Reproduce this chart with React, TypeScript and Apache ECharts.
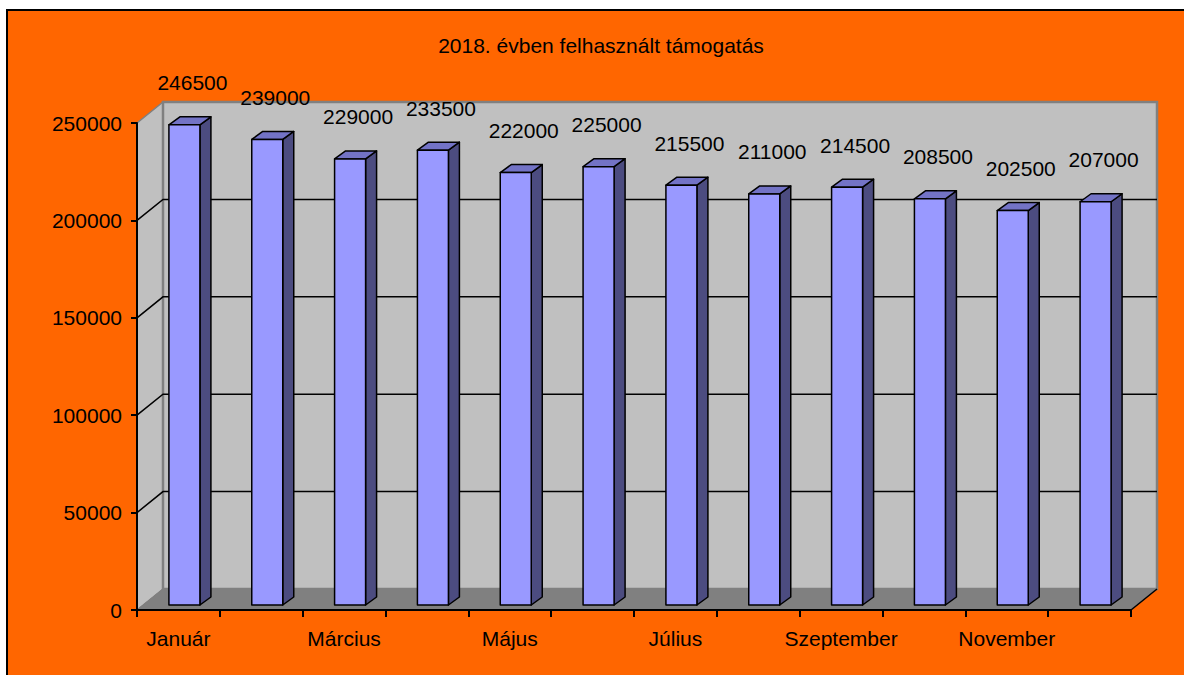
import React, { useEffect, useRef } from 'react';
import * as echarts from 'echarts';

const months = ['Január', 'Február', 'Március', 'Április', 'Május', 'Június', 'Július', 'Augusztus', 'Szeptember', 'Október', 'November', 'December'];
const amounts = [246500, 239000, 229000, 233500, 222000, 225000, 215500, 211000, 214500, 208500, 202500, 207000];
const yTicks = [0, 50000, 100000, 150000, 200000, 250000];
const chartTitle = '2018. évben felhasznált támogatás';

const DEPTH_X = 26;
const DEPTH_Y = -21;
const BAR_W = 31;
const BAR_DX = 11;
const BAR_DY = -8;
const BAR_OFF_X = 6;
const BAR_OFF_Y = -5;
const FONT = '"Liberation Sans", Arial, sans-serif';

export default function App() {
  const ref = useRef<HTMLDivElement>(null);
  useEffect(() => {
    const chart = echarts.init(ref.current as HTMLDivElement, null, { renderer: 'svg' });

    const wallsSeries = {
      type: 'custom',
      silent: true,
      z: 1,
      data: [[0, 0]],
      renderItem: (params: any, api: any) => {
        const bw = api.size([1, 0])[0];
        const first = api.coord([0, 0]);
        const x0 = first[0] - bw / 2;
        const x1 = api.coord([months.length - 1, 0])[0] + bw / 2;
        const y0 = first[1];
        const yT = api.coord([0, yTicks[yTicks.length - 1]])[1];
        const dx = DEPTH_X;
        const dy = DEPTH_Y;
        const children: any[] = [];
        children.push({
          type: 'polygon',
          shape: { points: [[x0, yT], [x0 + dx, yT + dy], [x0 + dx, y0 + dy], [x0, y0]] },
          style: { fill: '#C0C0C0', stroke: '#808080', lineWidth: 1.5 },
        });
        children.push({
          type: 'rect',
          shape: { x: x0 + dx, y: yT + dy, width: x1 - x0, height: y0 - yT },
          style: { fill: '#C0C0C0', stroke: '#808080', lineWidth: 2.5 },
        });
        children.push({
          type: 'polygon',
          shape: { points: [[x0, y0], [x1, y0], [x1 + dx, y0 + dy], [x0 + dx, y0 + dy]] },
          style: { fill: '#808080', stroke: '#808080', lineWidth: 1 },
        });
        children.push({
          type: 'line',
          shape: { x1: x1, y1: y0, x2: x1 + dx, y2: y0 + dy },
          style: { stroke: '#000', lineWidth: 1.5 },
        });
        yTicks.slice(1, -1).forEach((v) => {
          const y = api.coord([0, v])[1];
          children.push({
            type: 'polyline',
            shape: { points: [[x0, y], [x0 + dx, y + dy], [x1 + dx, y + dy]] },
            style: { stroke: '#000', lineWidth: 1.5, fill: null },
          });
        });
        return { type: 'group', children };
      },
    };

    const barsSeries = {
      type: 'custom',
      z: 3,
      data: amounts.map((v, i) => [i, v]),
      renderItem: (params: any, api: any) => {
        const i = api.value(0);
        const v = api.value(1);
        const top = api.coord([i, v]);
        const base = api.coord([i, 0]);
        const cx = top[0] + BAR_OFF_X;
        const xl = cx - BAR_W / 2;
        const xr = cx + BAR_W / 2;
        const yt = top[1] + BAR_OFF_Y;
        const yb = base[1] + BAR_OFF_Y;
        const line = { stroke: '#000', lineWidth: 1.5, lineJoin: 'round' };
        return {
          type: 'group',
          children: [
            {
              type: 'polygon',
              shape: { points: [[xr, yt], [xr + BAR_DX, yt + BAR_DY], [xr + BAR_DX, yb + BAR_DY], [xr, yb]] },
              style: { fill: '#4C4C80', ...line },
            },
            {
              type: 'polygon',
              shape: { points: [[xl, yt], [xl + BAR_DX, yt + BAR_DY], [xr + BAR_DX, yt + BAR_DY], [xr, yt]] },
              style: { fill: '#7373C6', ...line },
            },
            {
              type: 'rect',
              shape: { x: xl, y: yt, width: BAR_W, height: yb - yt },
              style: { fill: '#9999FF', ...line },
            },
            {
              type: 'text',
              x: top[0] + 14,
              y: yt - 42,
              style: {
                text: String(v),
                fill: '#000',
                font: `21px ${FONT}`,
                textAlign: 'center',
                textVerticalAlign: 'middle',
              },
            },
          ],
        };
      },
    };

    const option: any = {
      animation: false,
      graphic: [
        {
          type: 'rect',
          z: -100,
          silent: true,
          shape: { x: 7, y: 10, width: 1200, height: 700 },
          style: { fill: '#FF6600', stroke: '#000', lineWidth: 2 },
        },
        {
          type: 'text',
          z: 100,
          x: 601,
          y: 45,
          style: {
            text: chartTitle,
            fill: '#000',
            font: `21px ${FONT}`,
            textAlign: 'center',
            textVerticalAlign: 'middle',
          },
        },
      ],
      grid: { left: 137, top: 123, width: 994, height: 487 },
      xAxis: {
        type: 'category',
        data: months,
        boundaryGap: true,
        z: 10,
        axisLine: { lineStyle: { color: '#000', width: 2 } },
        axisTick: { show: true, length: 7, interval: 0, lineStyle: { color: '#000', width: 2 } },
        axisLabel: { interval: 1, color: '#000', fontSize: 21, fontFamily: FONT, margin: 18 },
        splitLine: { show: false },
      },
      yAxis: {
        type: 'value',
        min: 0,
        max: 250000,
        interval: 50000,
        z: 10,
        axisLine: { show: true, lineStyle: { color: '#000', width: 2 } },
        axisTick: { show: true, length: 6, lineStyle: { color: '#000', width: 2 } },
        axisLabel: {
          color: '#000',
          fontSize: 21,
          fontFamily: FONT,
          margin: 15,
          formatter: (val: number) => String(val),
        },
        splitLine: { show: false },
      },
      series: [wallsSeries, barsSeries],
    };
    chart.setOption(option);
    return () => chart.dispose();
  }, []);
  return <div ref={ref} style={{ position: 'absolute', left: 0, top: 0, width: 1184, height: 675 }} />;
}
